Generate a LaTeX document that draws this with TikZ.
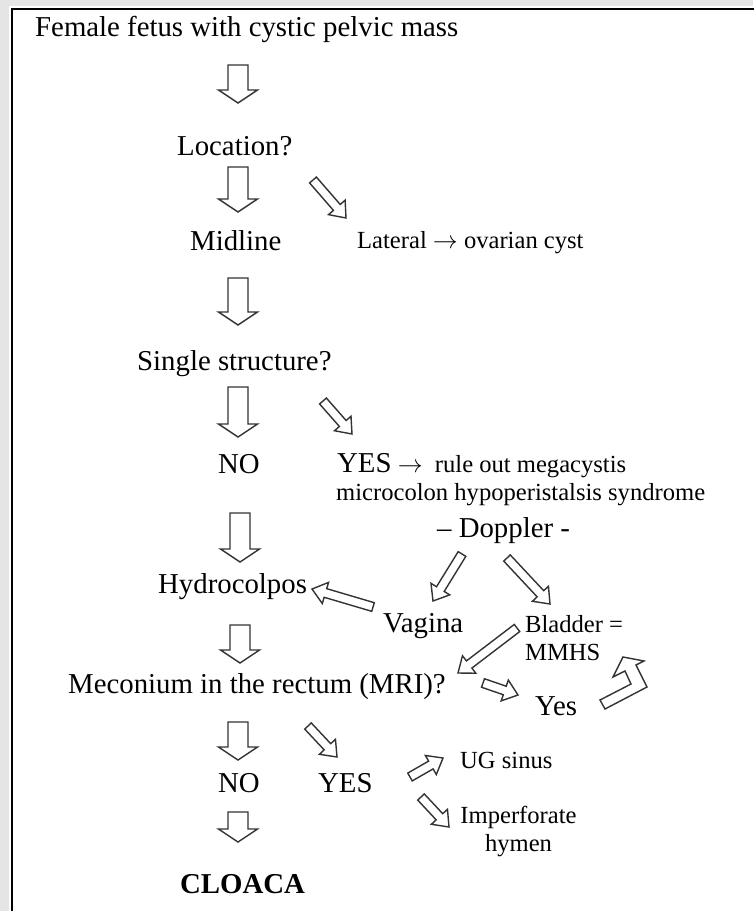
\documentclass[tikz,border=0pt]{standalone}
\usepackage{fontspec}
\setmainfont{Liberation Serif}
\usetikzlibrary{calc}
\tikzset{
  lbl/.style={inner sep=0pt, anchor=base west, font=\fontsize{28.8}{34}\selectfont},
  sml/.style={inner sep=0pt, anchor=base west, font=\fontsize{24.6}{28}\selectfont},
  barrow/.style={draw=black!80, line width=1.4pt, fill=white, line join=miter},
}
% #1 start, #2 end, #3 shaft half width, #4 head half width, #5 head length
\newcommand\blockarrow[5]{%
  \draw[barrow] let \p1=(#1), \p2=(#2),
     \n1={atan2(\y2-\y1,\x2-\x1)}, \n2={veclen(\x2-\x1,\y2-\y1)} in
   ($(\p1)+({\n1+90}:{#3})$)
   -- ($(\p1)+({\n1}:{\n2-#5})+({\n1+90}:{#3})$)
   -- ($(\p1)+({\n1}:{\n2-#5})+({\n1+90}:{#4})$)
   -- (\p2)
   -- ($(\p1)+({\n1}:{\n2-#5})+({\n1-90}:{#4})$)
   -- ($(\p1)+({\n1}:{\n2-#5})+({\n1-90}:{#3})$)
   -- ($(\p1)+({\n1-90}:{#3})$) -- cycle;}
\newcommand\dnarrow[2]{\blockarrow{#1}{#2}{10pt}{19.5pt}{13pt}}
\newcommand\diagarrow[2]{\blockarrow{#1}{#2}{4.5pt}{11pt}{14pt}}

\begin{document}
\begin{tikzpicture}[x=1pt,y=-1pt]
\useasboundingbox (0,0) rectangle (753,911);
\fill[white] (0,0) rectangle (753,911);
\fill[black!10] (0,0) rectangle (753,6);
\fill[black!10] (0,0) rectangle (9,911);
\draw[line width=2.5pt] (12,915) -- (12,9.2) -- (760,9.2);

% texts
\node[lbl] (title) at (35,36) {Female fetus with cystic pelvic mass};
\node[lbl] (loc) at (177,155) {Location?};
\node[lbl] (mid) at (190,250) {Midline};
\node[sml] (lat) at (357,248) {Lateral $\rightarrow$ ovarian cyst};
\node[lbl] (single) at (137,370) {Single structure?};
\node[lbl] (no1) at (218,473) {NO};
\node[lbl] (yes1) at (337,472) {YES{\fontsize{24.6}{28}\selectfont\ $\rightarrow$\ \ rule out megacystis}};
\node[sml] (micro) at (336,500) {microcolon hypoperistalsis syndrome};
\node[lbl] (dop) at (437,537) {– Doppler -};
\node[lbl] (hydro) at (158,593) {Hydrocolpos};
\node[lbl] (vag) at (383,632) {Vagina};
\node[sml, anchor=north west, align=left, font=\fontsize{24.6}{28}\selectfont] (blad) at (525,615) {Bladder =\\MMHS};
\node[lbl] (mec) at (68,693) {Meconium in the rectum (MRI)?};
\node[lbl] (yes2) at (535,715) {Yes};
\node[lbl] (no2) at (218,792) {NO};
\node[lbl] (yes3) at (318,792) {YES};
\node[sml] (ug) at (460,768) {UG sinus};
\node[sml, anchor=north, align=center, font=\fontsize{24.6}{27.5}\selectfont] (imp) at (518.5,806) {Imperforate\\hymen};
\node[lbl, font=\fontsize{28.8}{34}\selectfont\bfseries] (cloaca) at (180,893) {CLOACA};

% arrow end points
\coordinate (d1s) at (238,65);  \coordinate (d1e) at (238,103);
\coordinate (d2s) at (238,167); \coordinate (d2e) at (238,212);
\coordinate (d3s) at (238,278); \coordinate (d3e) at (238,325);
\coordinate (d4s) at (238,387); \coordinate (d4e) at (238,437);
\coordinate (d5s) at (240,513); \coordinate (d5e) at (240,562);
\coordinate (d6s) at (240,625); \coordinate (d6e) at (240,663);
\coordinate (d7s) at (238,722); \coordinate (d7e) at (238,760);
\coordinate (d8s) at (238,812); \coordinate (d8e) at (238,842);

\coordinate (latS) at (313,180); \coordinate (latE) at (346,218);
\coordinate (ys1S) at (323,401); \coordinate (ys1E) at (352,434);
\coordinate (dlS) at (462,554);  \coordinate (dlE) at (433,601);
\coordinate (drS) at (507,558);  \coordinate (drE) at (550,604);
\coordinate (hyS) at (373,607);  \coordinate (hyE) at (312,589);
\coordinate (blS) at (517,628);  \coordinate (blE) at (458,673);
\coordinate (y2S) at (483,683);  \coordinate (y2E) at (518,695);
\coordinate (y3S) at (308,726);  \coordinate (y3E) at (337,757);
\coordinate (ugS) at (410,777);  \coordinate (ugE) at (443,758);
\coordinate (imS) at (421,797);  \coordinate (imE) at (449,827);

\dnarrow{d1s}{d1e}
\dnarrow{d2s}{d2e}
\dnarrow{d3s}{d3e}
\dnarrow{d4s}{d4e}
\dnarrow{d5s}{d5e}
\dnarrow{d6s}{d6e}
\dnarrow{d7s}{d7e}
\dnarrow{d8s}{d8e}

\diagarrow{latS}{latE}
\diagarrow{ys1S}{ys1E}
\diagarrow{dlS}{dlE}
\diagarrow{drS}{drE}
\diagarrow{hyS}{hyE}
\diagarrow{blS}{blE}
\diagarrow{y2S}{y2E}
\diagarrow{y3S}{y3E}
\diagarrow{ugS}{ugE}
\diagarrow{imS}{imE}

% bent arrow from Yes back to Bladder = MMHS
\draw[barrow] (600,700) -- (605,709) -- (647,687) -- (636,665) -- (644,661)
  -- (623,657) -- (613,677) -- (625,671) -- (631,684) -- cycle;
\end{tikzpicture}
\end{document}
